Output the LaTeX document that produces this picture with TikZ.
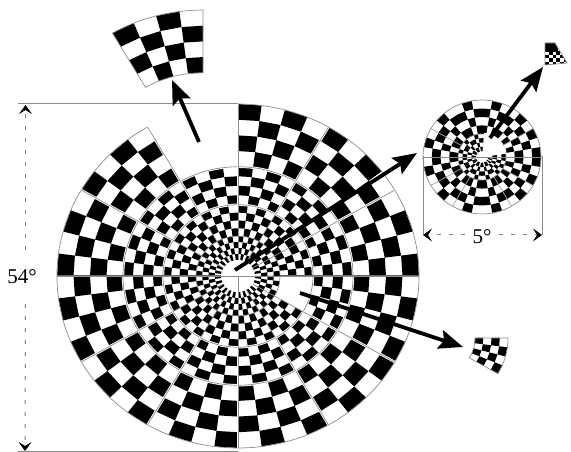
\documentclass[tikz,border=0pt]{standalone}
\usepackage{fontspec}
\setmainfont{Liberation Serif}
\usetikzlibrary{arrows.meta,positioning,calc}
\newcommand{\checkwedge}[5]{%
  \foreach \i in {1,...,#4}{\foreach \j in {1,...,4}{%
    \pgfmathtruncatemacro{\cellodd}{mod(\i+\j+#5,2)}%
    \ifnum\cellodd=0
      \pgfmathsetmacro{\angA}{#1+(\i-1)*30/#4}%
      \pgfmathsetmacro{\angB}{#1+\i*30/#4}%
      \pgfmathsetmacro{\radA}{#2+(\j-1)*(#3-#2)/4}%
      \pgfmathsetmacro{\radB}{#2+\j*(#3-#2)/4}%
      \fill (\angA:\radA) -- (\angB:\radA) -- (\angB:\radB) -- (\angA:\radB) -- cycle;
    \fi}}}
\newcommand{\checkring}[4]{%
  \foreach \w in {0,...,11}{%
    \ifnum\w=#4 \else
      \pgfmathtruncatemacro{\wphase}{(\w==0||\w==11)?1:0}%
      \pgfmathsetmacro{\wstart}{\w*30}%
      \checkwedge{\wstart}{#1}{#2}{#3}{\wphase}%
    \fi}}
\newcommand{\wedgeline}[3]{(#1:#2) arc[start angle=#1, end angle=#1+30, radius=#2] -- (#1+30:#3) arc[start angle=#1+30, end angle=#1, radius=#3] -- cycle}
\begin{document}
\begin{tikzpicture}[
  x=1pt, y=1pt,
  ringline/.style={draw=black!45, line width=0.7pt},
  ringhalo/.style={ringline, preaction={draw=white, line width=2.4pt}},
  dimline/.style={draw=black!45, line width=0.8pt},
  dimarr/.style={draw=black!50, line width=1pt, dash pattern=on 4pt off 8pt, -{Stealth[length=9pt, width=13pt, inset=4pt, black]}},
  bigarr/.style={line width=3.8pt, -{Stealth[length=24pt, width=19pt, inset=4pt]}},
  lbl/.style={font=\fontsize{21}{24}\selectfont, inner sep=0pt}]
  \useasboundingbox[fill=white] (0,0) rectangle (571,452);

  \begin{scope}[shift={(238,176)}, yscale=0.95]
    \checkring{17}{42}{4}{-1}
    \checkring{42}{75}{4}{11}
    \checkring{75}{115}{4}{-1}
    \checkring{115}{181}{4}{3}
    \draw[ringline] (0,0) circle[radius=42];
    \foreach \r in {75,115}{\draw[ringhalo] (0,0) circle[radius=\r];}
    \draw[ringline] (120:181) arc[start angle=120, end angle=450, radius=181];
    \foreach \a in {0,30,60,90,120,150,180,210,240,270,300,330}{\draw[ringline] (\a:17) -- (\a:75);\draw[ringhalo] (\a:75) -- (\a:115);\draw[ringhalo] (\a:115) -- (\a:181);}
    \draw[ringline] (-17,0) -- (17,0) (0,0) -- (0,-17);
    \draw[ringline, black!60, line width=1pt] (-181,0) -- (-17,0) (42,0) -- (181,0);
    \draw[ringline] (0,17) -- (0,181);
  \end{scope}

  \begin{scope}[shift={(203,270)}, yscale=0.95]
    \checkwedge{90}{115}{181}{4}{0}
    \draw[ringline] \wedgeline{90}{181}{115};
  \end{scope}
  \begin{scope}[shift={(433,114)}, yscale=0.95]
    \checkwedge{330}{42}{75}{4}{1}
    \draw[ringline] \wedgeline{330}{75}{42};
  \end{scope}

  \begin{scope}[shift={(482,295)}, yscale=0.965]
    \checkring{24}{59}{3}{-1}
    \checkring{6}{24}{3}{-1}
    \fill[white] (8:4) -- (8:25) arc[start angle=8, end angle=85, radius=25] -- (85:4) -- cycle;
    \draw[ringline] (0,0) circle[radius=59];
    \draw[ringline] (85:24) arc[start angle=85, end angle=368, radius=24];
    \foreach \a in {30,150,210,240,300,330}{\draw[ringline, black!35] (\a:24) -- (\a:59);}
    \draw[ringline] (-59,0) -- (59,0);
  \end{scope}

  \begin{scope}
    \clip (545,409) -- (555,409) -- (567,389) -- (545,387) -- cycle;
    \fill (545,400) rectangle (558,410);
    \foreach \i in {0,...,5}{\foreach \j in {0,...,3}{%
      \pgfmathtruncatemacro{\cellodd}{mod(\i+\j,2)}%
      \ifnum\cellodd=0 \fill (545+\i*3.8,386+\j*3.8) rectangle ++(3.8,3.8);\fi}}
  \end{scope}
  \draw[ringline] (545,409) -- (555,409) -- (567,389) -- (545,387) -- cycle;

  \draw[dimline] (18,349) -- (238,349);
  \draw[dimline] (18,1) -- (238,1);
  \draw[dimline] (423,296) -- (423,217);
  \draw[dimline] (542,296) -- (542,217);

  \node[lbl, minimum height=54pt] (deg54) at (22,175) {54°};
  \coordinate (dimtop) at (25.5,347);
  \coordinate (dimbot) at (25,1);
  \draw[dimarr] (25.5,202) -- (dimtop);
  \draw[dimarr] (25.5,148) -- (dimbot);

  \node[lbl, minimum width=34pt] (deg5) at (482,215) {5°};
  \coordinate (dimleft) at (423,217);
  \coordinate (dimright) at (542,217);
  \draw[dimarr] (deg5.west |- dimleft) -- (dimleft);
  \draw[dimarr] (deg5.east |- dimright) -- (dimright);

  \coordinate (tailup) at (199,310);
  \coordinate (tipup) at (172,372);
  \coordinate (tailcentre) at (235,182);
  \coordinate (tipcentre) at (417,299);
  \coordinate (tailsmall) at (490,314);
  \coordinate (tipsmall) at (543,385);
  \coordinate (taildown) at (300,159);
  \coordinate (tipdown) at (463,105);
  \draw[bigarr] (tailup) -- (tipup);
  \draw[bigarr] (tailcentre) -- (tipcentre);
  \draw[bigarr] (tailsmall) -- (tipsmall);
  \draw[bigarr] (taildown) -- (tipdown);
\end{tikzpicture}
\end{document}
